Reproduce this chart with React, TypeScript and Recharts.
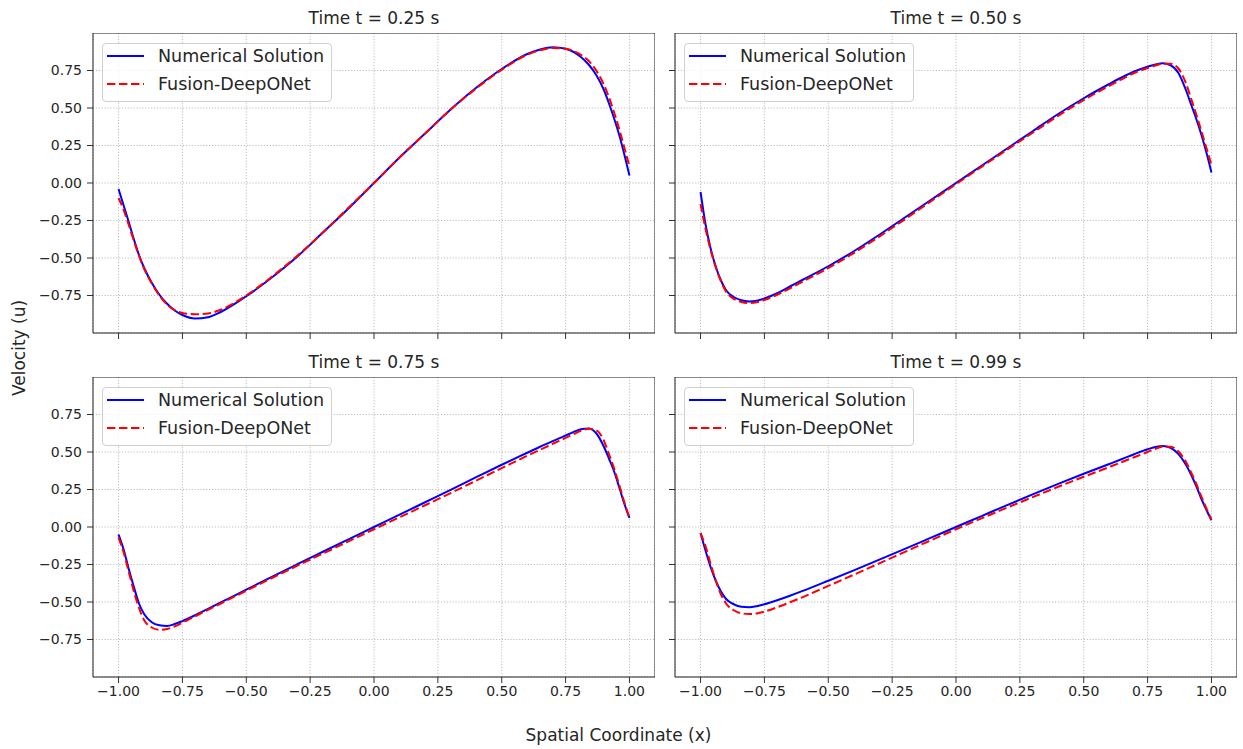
import React from 'react';
import { LineChart, Line, XAxis, YAxis, CartesianGrid, ReferenceArea, Legend } from 'recharts';

// ---- data ----
const X = [-1, -0.98, -0.96, -0.94, -0.92, -0.9, -0.87, -0.84, -0.81, -0.78, -0.75, -0.7, -0.65, -0.6, -0.5, -0.4, -0.3, -0.2, -0.1, 0, 0.1, 0.2, 0.3, 0.4, 0.5, 0.6, 0.65, 0.7, 0.75, 0.78, 0.81, 0.84, 0.87, 0.9, 0.92, 0.94, 0.96, 0.98, 1.0];

const NUM_T025 = [-0.04, -0.15, -0.26, -0.375, -0.48, -0.565, -0.665, -0.745, -0.805, -0.85, -0.88, -0.903, -0.895, -0.86, -0.755, -0.63, -0.49, -0.33, -0.17, 0, 0.17, 0.33, 0.49, 0.635, 0.76, 0.86, 0.89, 0.905, 0.895, 0.875, 0.84, 0.79, 0.72, 0.62, 0.53, 0.43, 0.32, 0.19, 0.05];
const FUS_T025 = [-0.1, -0.18, -0.28, -0.385, -0.485, -0.57, -0.67, -0.75, -0.81, -0.848, -0.866, -0.875, -0.87, -0.845, -0.75, -0.625, -0.485, -0.33, -0.165, 0, 0.17, 0.33, 0.49, 0.63, 0.755, 0.855, 0.885, 0.9, 0.895, 0.88, 0.855, 0.815, 0.75, 0.655, 0.57, 0.47, 0.36, 0.235, 0.11];

const NUM_T050 = [-0.06, -0.28, -0.44, -0.56, -0.65, -0.715, -0.76, -0.782, -0.79, -0.785, -0.77, -0.735, -0.69, -0.645, -0.555, -0.455, -0.345, -0.23, -0.115, 0, 0.115, 0.23, 0.345, 0.46, 0.565, 0.66, 0.705, 0.745, 0.775, 0.79, 0.798, 0.785, 0.735, 0.62, 0.525, 0.43, 0.325, 0.205, 0.07];
const FUS_T050 = [-0.14, -0.31, -0.45, -0.565, -0.655, -0.725, -0.772, -0.793, -0.8, -0.795, -0.78, -0.745, -0.702, -0.657, -0.567, -0.467, -0.357, -0.242, -0.124, -0.008, 0.108, 0.222, 0.335, 0.448, 0.553, 0.648, 0.693, 0.735, 0.767, 0.783, 0.795, 0.795, 0.765, 0.665, 0.565, 0.46, 0.35, 0.235, 0.12];

const NUM_T075 = [-0.05, -0.15, -0.28, -0.4, -0.51, -0.58, -0.635, -0.655, -0.66, -0.647, -0.627, -0.588, -0.546, -0.503, -0.418, -0.332, -0.248, -0.165, -0.082, 0, 0.082, 0.165, 0.248, 0.332, 0.415, 0.495, 0.535, 0.573, 0.61, 0.632, 0.652, 0.657, 0.625, 0.535, 0.455, 0.37, 0.265, 0.155, 0.06];
const FUS_T075 = [-0.07, -0.17, -0.3, -0.43, -0.54, -0.62, -0.67, -0.685, -0.68, -0.662, -0.638, -0.595, -0.552, -0.51, -0.425, -0.34, -0.258, -0.177, -0.096, -0.015, 0.065, 0.145, 0.226, 0.309, 0.393, 0.475, 0.515, 0.555, 0.594, 0.618, 0.642, 0.655, 0.645, 0.575, 0.485, 0.39, 0.28, 0.165, 0.06];

const NUM_T099 = [-0.04, -0.16, -0.27, -0.36, -0.43, -0.48, -0.515, -0.532, -0.535, -0.528, -0.515, -0.488, -0.458, -0.426, -0.358, -0.289, -0.218, -0.146, -0.073, 0, 0.073, 0.146, 0.217, 0.287, 0.355, 0.42, 0.453, 0.487, 0.518, 0.533, 0.54, 0.527, 0.487, 0.415, 0.35, 0.275, 0.19, 0.115, 0.045];
const FUS_T099 = [-0.04, -0.13, -0.25, -0.36, -0.45, -0.51, -0.555, -0.575, -0.58, -0.576, -0.564, -0.535, -0.502, -0.467, -0.393, -0.318, -0.242, -0.166, -0.09, -0.015, 0.058, 0.129, 0.199, 0.268, 0.335, 0.4, 0.433, 0.467, 0.5, 0.52, 0.536, 0.535, 0.505, 0.435, 0.365, 0.29, 0.205, 0.125, 0.05];

const X_TICKS = [-1, -0.75, -0.5, -0.25, 0, 0.25, 0.5, 0.75, 1];
const Y_TICKS = [-0.75, -0.5, -0.25, 0, 0.25, 0.5, 0.75];
const TITLES = ['Time t = 0.25 s', 'Time t = 0.50 s', 'Time t = 0.75 s', 'Time t = 0.99 s'];
const SERIES_LABELS = ['Numerical Solution', 'Fusion-DeepONet'];
const X_LABEL = 'Spatial Coordinate (x)';
const Y_LABEL = 'Velocity (u)';

// ---- styling ----
const FONT = "'DejaVu Sans', 'Liberation Sans', sans-serif";
const BLUE = '#0000ff';
const RED = '#ff0000';
const DASH = '8.4 3.6';
const TEXT = '#262626';
const PLOT_W = 562;
const PLOT_H = 300;
const YAXIS_W = 60;
const XAXIS_H = 30;
const SERIES_STYLE = [
  { color: BLUE, dash: undefined as string | undefined },
  { color: RED, dash: DASH },
];

const PANELS = [
  { title: TITLES[0], num: NUM_T025, fus: FUS_T025, left: 93, top: 33, showX: false, showY: true },
  { title: TITLES[1], num: NUM_T050, fus: FUS_T050, left: 675, top: 33, showX: false, showY: false },
  { title: TITLES[2], num: NUM_T075, fus: FUS_T075, left: 93, top: 377, showX: true, showY: true },
  { title: TITLES[3], num: NUM_T099, fus: FUS_T099, left: 675, top: 377, showX: true, showY: false },
];

const fmt = (v: number) => {
  const s = Math.abs(v).toFixed(2);
  return v < -1e-9 ? '\u2212' + s : s;
};
const blank = () => '';

const LegendBox = () => (
  <div
    style={{
      width: 230,
      height: 59,
      boxSizing: 'border-box',
      border: '1px solid #d0d0d0',
      borderRadius: 4,
      background: 'rgba(255,255,255,0.8)',
      fontFamily: FONT,
      fontSize: 17.5,
      color: TEXT,
    }}
  >
    <div style={{ marginTop: -2 }}>
      {SERIES_LABELS.map((label, i) => (
        <div key={i} style={{ height: 28, display: 'flex', alignItems: 'center', paddingLeft: 4 }}>
          <svg width={37} height={6} style={{ display: 'block' }}>
            <line
              x1={0}
              x2={37}
              y1={3}
              y2={3}
              stroke={SERIES_STYLE[i].color}
              strokeWidth={2}
              strokeDasharray={SERIES_STYLE[i].dash}
            />
          </svg>
          <span style={{ marginLeft: 14, whiteSpace: 'nowrap', lineHeight: '20px' }}>{label}</span>
        </div>
      ))}
    </div>
  </div>
);

const Panel = ({ p }: { p: (typeof PANELS)[number] }) => {
  const rows = X.map((x, i) => ({ x, num: p.num[i], fus: p.fus[i] }));
  return (
    <div style={{ position: 'absolute', left: p.left - YAXIS_W, top: p.top }}>
      <LineChart
        width={PLOT_W + YAXIS_W}
        height={PLOT_H + XAXIS_H}
        data={rows}
        margin={{ top: 0, right: 0, bottom: 0, left: 0 }}
      >
        <CartesianGrid stroke="#b8b8b8" strokeDasharray="1.1 1.8" strokeWidth={1} />
        <XAxis
          type="number"
          dataKey="x"
          domain={[-1.1, 1.1]}
          ticks={X_TICKS}
          interval={0}
          allowDataOverflow
          height={XAXIS_H}
          axisLine={false}
          tickLine={{ stroke: '#333', strokeWidth: 1 }}
          tickSize={6}
          tickMargin={3}
          tick={{ fill: TEXT, fontSize: 14 }}
          tickFormatter={p.showX ? fmt : blank}
        />
        <YAxis
          type="number"
          domain={[-1, 1]}
          ticks={Y_TICKS}
          interval={0}
          allowDataOverflow
          width={YAXIS_W}
          axisLine={false}
          tickLine={{ stroke: '#333', strokeWidth: 1 }}
          tickSize={6}
          tickMargin={5}
          tick={{ fill: TEXT, fontSize: 14 }}
          tickFormatter={p.showY ? fmt : blank}
        />
        <ReferenceArea x1={-1.1} x2={1.1} y1={-1} y2={1} fill="none" stroke="#222" strokeWidth={1} ifOverflow="visible" />
        <Line
          type="monotone"
          dataKey="num"
          name={SERIES_LABELS[0]}
          stroke={BLUE}
          strokeWidth={2}
          dot={false}
          activeDot={false}
          isAnimationActive={false}
        />
        <Line
          type="monotone"
          dataKey="fus"
          name={SERIES_LABELS[1]}
          stroke={RED}
          strokeWidth={2}
          strokeDasharray={DASH}
          dot={false}
          activeDot={false}
          isAnimationActive={false}
        />
        <Legend
          layout="horizontal"
          align="center"
          verticalAlign="middle"
          content={LegendBox}
          wrapperStyle={{ left: YAXIS_W + 9, top: 10, width: 230, height: 59 }}
        />
      </LineChart>
    </div>
  );
};

export default function App() {
  return (
    <div
      style={{
        position: 'absolute',
        left: 0,
        top: 0,
        width: 1243,
        height: 749,
        background: '#ffffff',
        fontFamily: FONT,
        color: TEXT,
        overflow: 'hidden',
      }}
    >
      {PANELS.map((p, i) => (
        <div
          key={'t' + i}
          style={{
            position: 'absolute',
            left: p.left,
            top: p.top - 25,
            width: PLOT_W,
            textAlign: 'center',
            fontSize: 17,
            lineHeight: '20px',
            whiteSpace: 'nowrap',
          }}
        >
          {p.title}
        </div>
      ))}
      {PANELS.map((p, i) => (
        <Panel key={'p' + i} p={p} />
      ))}
      <div
        style={{
          position: 'absolute',
          left: 0,
          width: 1243,
          top: 725,
          textAlign: 'center',
          fontSize: 17,
          lineHeight: '20px',
          whiteSpace: 'nowrap',
        }}
      >
        <span style={{ position: 'relative', left: -3 }}>{X_LABEL}</span>
      </div>
      <div
        style={{
          position: 'absolute',
          left: 19,
          top: 348,
          transform: 'translate(-50%, -50%) rotate(-90deg)',
          fontSize: 17,
          lineHeight: '20px',
          whiteSpace: 'nowrap',
        }}
      >
        {Y_LABEL}
      </div>
    </div>
  );
}
